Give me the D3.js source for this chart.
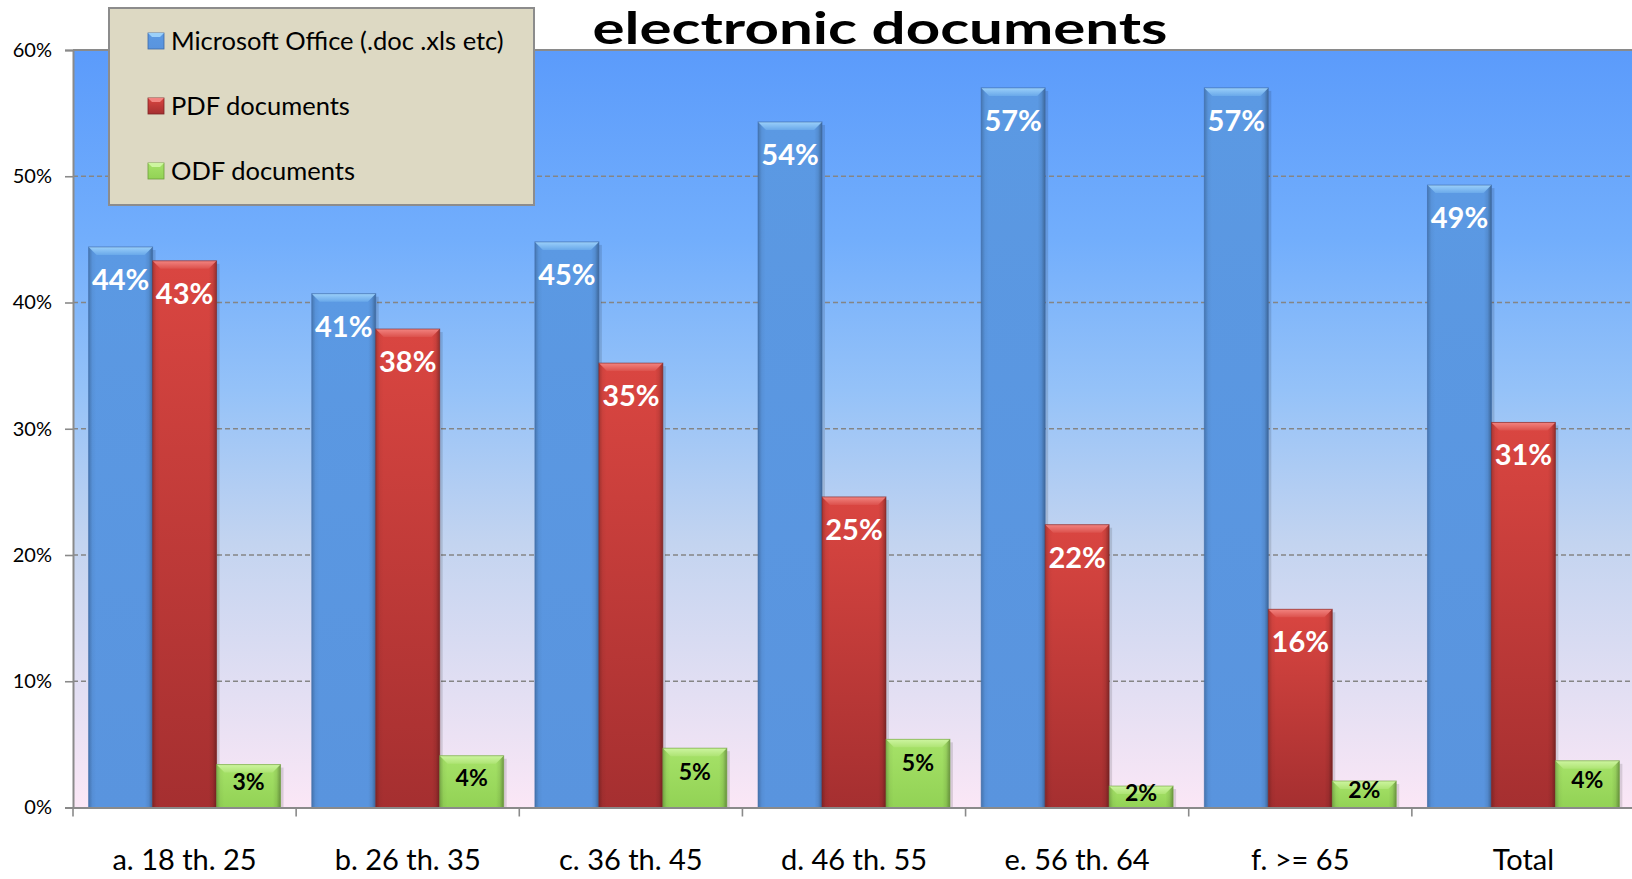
<!DOCTYPE html>
<html>
<head>
<meta charset="utf-8">
<script src="https://cdn.jsdelivr.net/npm/d3@7"></script>
<style>
  html, body { margin: 0; padding: 0; background: #fff; overflow: hidden; }
  svg { display: block; font-family: Lato, "Open Sans", sans-serif; }
</style>
</head>
<body>
<svg id="chart" width="1632" height="879"></svg>
<script>
// values (percent)
var categories = ["a. 18 th. 25", "b. 26 th. 35", "c. 36 th. 45", "d. 46 th. 55", "e. 56 th. 64", "f. >= 65", "Total"];
var seriesNames = ["Microsoft Office (.doc .xls etc)", "PDF documents", "ODF documents"];
var msOffice = [44.4, 40.7, 44.8, 54.3, 57.0, 57.0, 49.3];
var pdfDocs = [43.3, 37.9, 35.2, 24.6, 22.4, 15.7, 30.5];
var odfDocs = [3.4, 4.1, 4.7, 5.4, 1.7, 2.1, 3.7];
var yTicks = [0, 10, 20, 30, 40, 50, 60];
var titleText = "electronic documents";

var W = 1632, H = 879;
var plot = { left: 73, top: 50, right: 1635, bottom: 807.5 };

var svg = d3.select("#chart");
var defs = svg.append("defs");

var seriesKeys = ["ms", "pdf", "odf"];
var seriesVals = { ms: msOffice, pdf: pdfDocs, odf: odfDocs };
var looks = {
    ms:  { top: "#5B99E3", bot: "#5994DE", bevA: "#9BD0FA", bevB: "#6AA9EA", stroke: "#3F6AA6" },
    pdf: { top: "#DA4641", bot: "#A52F30", bevA: "#F28480", bevB: "#DC514C", stroke: "#7E2424" },
    odf: { top: "#A6E268", bot: "#92D255", bevA: "#CDF5A0", bevB: "#AEE474", stroke: "#6E9E3C" }
};

// background gradient
var bg = defs.append("linearGradient").attr("id", "bgGrad")
    .attr("x1", 0).attr("y1", 0).attr("x2", 0).attr("y2", 1);
[[0, "#5B9BFB"], [0.25, "#72AEFC"], [0.45, "#95C2F8"], [0.65, "#C3D4F0"], [0.85, "#E3DFF3"], [1, "#FBE7F6"]]
    .forEach(function(s) { bg.append("stop").attr("offset", s[0]).attr("stop-color", s[1]); });

// edge shading shared by all bars
var edge = defs.append("linearGradient").attr("id", "edgeGrad")
    .attr("x1", 0).attr("y1", 0).attr("x2", 1).attr("y2", 0);
[[0, 0.22], [0.06, 0.04], [0.12, 0], [0.88, 0], [0.94, 0.08], [1, 0.32]]
    .forEach(function(s) { edge.append("stop").attr("offset", s[0]).attr("stop-color", "#000").attr("stop-opacity", s[1]); });

seriesKeys.forEach(function(k) {
    var g = defs.append("linearGradient").attr("id", "fill-" + k)
        .attr("x1", 0).attr("y1", 0).attr("x2", 0).attr("y2", 1);
    g.append("stop").attr("offset", 0).attr("stop-color", looks[k].top);
    g.append("stop").attr("offset", 1).attr("stop-color", looks[k].bot);
    var b = defs.append("linearGradient").attr("id", "bev-" + k)
        .attr("x1", 0).attr("y1", 0).attr("x2", 0).attr("y2", 1);
    b.append("stop").attr("offset", 0).attr("stop-color", looks[k].bevA);
    b.append("stop").attr("offset", 1).attr("stop-color", looks[k].bevB);
});

var x0 = d3.scaleBand().domain(categories).range([plot.left, plot.right]).padding(0);
var gap = x0.bandwidth() * 0.07;
var x1 = d3.scaleBand().domain(seriesKeys).range([gap, x0.bandwidth() - gap]).padding(0);
var y = d3.scaleLinear().domain([0, 60]).range([plot.bottom, plot.top]);

// plot background
svg.append("rect")
    .attr("x", plot.left).attr("y", plot.top)
    .attr("width", plot.right - plot.left).attr("height", plot.bottom - plot.top)
    .attr("fill", "url(#bgGrad)");

// gridlines
svg.append("g").selectAll("line")
    .data(yTicks.filter(function(t) { return t > 0 && t < 60; }))
    .enter().append("line")
    .attr("x1", plot.left).attr("x2", plot.right)
    .attr("y1", function(d) { return y(d); }).attr("y2", function(d) { return y(d); })
    .attr("stroke", "#858585").attr("stroke-width", 1.3).attr("stroke-dasharray", "5,3");

// top border
svg.append("line")
    .attr("x1", plot.left).attr("x2", plot.right)
    .attr("y1", y(60)).attr("y2", y(60))
    .attr("stroke", "#8A8A8A").attr("stroke-width", 2.2);

// y axis
var yAxis = d3.axisLeft(y).tickValues(yTicks)
    .tickFormat(function(d) { return d + "%"; })
    .tickSize(8).tickPadding(13);
var yg = svg.append("g").attr("transform", "translate(" + plot.left + ",0)").call(yAxis);
yg.select(".domain").attr("stroke", "#8A8A8A").attr("stroke-width", 2);
yg.selectAll(".tick line").attr("stroke", "#8A8A8A").attr("stroke-width", 1.6);
yg.selectAll(".tick text").attr("font-size", 20).attr("fill", "#000").attr("font-family", "Lato");

// bars
var groups = svg.append("g").selectAll("g.cat")
    .data(categories).enter().append("g")
    .attr("class", "cat")
    .attr("transform", function(d) { return "translate(" + x0(d) + ",0)"; });

var bars = groups.selectAll("g.bar")
    .data(function(c, i) {
        return seriesKeys.map(function(k) { return { key: k, value: seriesVals[k][i] }; });
    })
    .enter().append("g").attr("class", "bar");

var bw = x1.bandwidth();
var bev = 8;

bars.append("rect") // soft shadow
    .attr("x", function(d) { return x1(d.key) + 3; })
    .attr("y", function(d) { return y(d.value) + 3; })
    .attr("width", bw)
    .attr("height", function(d) { return plot.bottom - y(d.value) - 3; })
    .attr("fill", "#000").attr("opacity", 0.12);

bars.append("rect")
    .attr("x", function(d) { return x1(d.key); })
    .attr("y", function(d) { return y(d.value); })
    .attr("width", bw)
    .attr("height", function(d) { return plot.bottom - y(d.value); })
    .attr("fill", function(d) { return "url(#fill-" + d.key + ")"; });

bars.append("rect")
    .attr("x", function(d) { return x1(d.key); })
    .attr("y", function(d) { return y(d.value); })
    .attr("width", bw)
    .attr("height", function(d) { return plot.bottom - y(d.value); })
    .attr("fill", "url(#edgeGrad)");

bars.append("path") // top bevel
    .attr("d", function(d) {
        var xa = x1(d.key), ya = y(d.value);
        return "M" + xa + "," + ya + "L" + (xa + bw) + "," + ya +
            "L" + (xa + bw - bev) + "," + (ya + bev) + "L" + (xa + bev) + "," + (ya + bev) + "Z";
    })
    .attr("fill", function(d) { return "url(#bev-" + d.key + ")"; });

bars.append("rect")
    .attr("x", function(d) { return x1(d.key); })
    .attr("y", function(d) { return y(d.value); })
    .attr("width", bw)
    .attr("height", function(d) { return plot.bottom - y(d.value); })
    .attr("fill", "none")
    .attr("stroke", function(d) { return looks[d.key].stroke; })
    .attr("stroke-opacity", 0.6).attr("stroke-width", 1);

// value labels
bars.append("text")
    .attr("x", function(d) { return x1(d.key) + bw / 2; })
    .attr("y", function(d) {
        var top = y(d.value);
        if (d.key === "odf") {
            var mid = (top + plot.bottom) / 2;
            return Math.min(top + 25, mid - 3) + 7;
        }
        return top + 43;
    })
    .attr("text-anchor", "middle")
    .attr("font-weight", "bold")
    .attr("font-size", function(d) { return d.key === "odf" ? 23 : 29; })
    .attr("fill", function(d) { return d.key === "odf" ? "#000" : "#fff"; })
    .text(function(d) { return Math.round(d.value) + "%"; });

// x axis
var xAxis = d3.axisBottom(x0).tickSize(0).tickPadding(0).tickFormat("");
var xg = svg.append("g").attr("transform", "translate(0," + plot.bottom + ")").call(xAxis);
xg.select(".domain").attr("stroke", "#8A8A8A").attr("stroke-width", 2);
xg.selectAll(".tick").remove();

svg.append("g").selectAll("line")
    .data(categories.concat(["end"]))
    .enter().append("line")
    .attr("x1", function(d, i) { return i < categories.length ? x0(d) : x0.range()[1]; })
    .attr("x2", function(d, i) { return i < categories.length ? x0(d) : x0.range()[1]; })
    .attr("y1", plot.bottom).attr("y2", plot.bottom + 9)
    .attr("stroke", "#8A8A8A").attr("stroke-width", 1.6);

svg.append("g").selectAll("text")
    .data(categories).enter().append("text")
    .attr("x", function(d) { return x0(d) + x0.bandwidth() / 2; })
    .attr("y", 870)
    .attr("text-anchor", "middle")
    .attr("font-size", 29)
    .attr("fill", "#000")
    .text(function(d) { return d; });

// legend
var legend = svg.append("g");
legend.append("rect")
    .attr("x", 109).attr("y", 8).attr("width", 425).attr("height", 197)
    .attr("fill", "#DDD9C3").attr("stroke", "#8C8C8C").attr("stroke-width", 2);

var legRows = legend.selectAll("g.item")
    .data(seriesKeys).enter().append("g")
    .attr("class", "item")
    .attr("transform", function(d, i) { return "translate(148," + (41 + i * 65) + ")"; });

legRows.append("rect")
    .attr("x", 0).attr("y", -8).attr("width", 16).attr("height", 16)
    .attr("fill", function(d) { return "url(#fill-" + d + ")"; })
    .attr("stroke", function(d) { return looks[d].stroke; }).attr("stroke-width", 0.8);
legRows.append("path")
    .attr("d", "M0,-8L16,-8L12,-4L4,-4Z")
    .attr("fill", function(d) { return looks[d].bevA; });

legRows.append("text")
    .attr("x", 23).attr("y", 9)
    .attr("font-size", 25.5).attr("fill", "#000")
    .text(function(d, i) { return seriesNames[i]; });

// title, kept tight against the top edge but fully visible
svg.append("text")
    .attr("x", 880).attr("y", 44)
    .attr("text-anchor", "middle")
    .attr("font-weight", "bold")
    .attr("font-size", 44)
    .attr("textLength", 575)
    .attr("lengthAdjust", "spacingAndGlyphs")
    .attr("fill", "#000")
    .text(titleText);
</script>
</body>
</html>
